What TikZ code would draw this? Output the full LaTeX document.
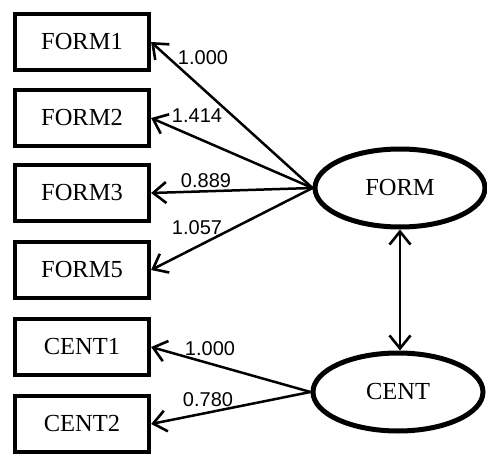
\documentclass[tikz,border=0pt]{standalone}
\usepackage{fontspec}
\setmainfont{Liberation Serif}
\newfontfamily\labelfont{Liberation Sans}
\usetikzlibrary{arrows.meta,shapes.geometric}
\begin{document}
\begin{tikzpicture}[x=1pt,y=-1pt,
  indicator/.style={draw, line width=4.2pt, rectangle, minimum width=134pt, minimum height=56pt,
    inner sep=0pt, font=\fontsize{24.5}{27}\selectfont},
  latent/.style={draw, line width=5pt, ellipse, minimum width=170pt, minimum height=78pt,
    inner sep=0pt, font=\fontsize{24.5}{27}\selectfont},
  barb/.tip={Straight Barb[length=13pt,width=21pt,line width=2.6pt]},
  loading/.style={line width=2.5pt, -barb},
  covar/.style={line width=2.5pt, barb-barb},
  coef/.style={font=\labelfont\fontsize{20}{22}\selectfont, inner sep=0pt}]
  \useasboundingbox[fill=white] (0,0) rectangle (487,454);

  % observed indicators
  \node[indicator] (f1) at (82,42)  {FORM1};
  \node[indicator] (f2) at (82,118) {FORM2};
  \node[indicator] (f3) at (82,193) {FORM3};
  \node[indicator] (f5) at (82,270) {FORM5};
  \node[indicator] (c1) at (82,347) {CENT1};
  \node[indicator] (c2) at (82,424) {CENT2};

  % latent factors
  \node[latent] (form) at (400,188) {FORM};
  \node[latent] (cent) at (398,392) {CENT};

  % factor loadings
  \draw[loading] (form.west) -- (f1.east);
  \draw[loading] (form.west) -- (f2.east);
  \draw[loading] (form.west) -- (f3.east);
  \draw[loading] (form.west) -- (f5.east);
  \draw[loading] (cent.west) -- (c1.east);
  \draw[loading] (cent.west) -- (c2.east);

  % factor covariance
  \draw[covar] (form.south) -- (form.south |- cent.north);

  % loading estimates
  \node[coef] (l1) at (203,58)  {1.000};
  \node[coef] (l2) at (197,116) {1.414};
  \node[coef] (l3) at (206,181) {0.889};
  \node[coef] (l5) at (197,228) {1.057};
  \node[coef] (m1) at (210,349) {1.000};
  \node[coef] (m2) at (208,400) {0.780};
\end{tikzpicture}
\end{document}
